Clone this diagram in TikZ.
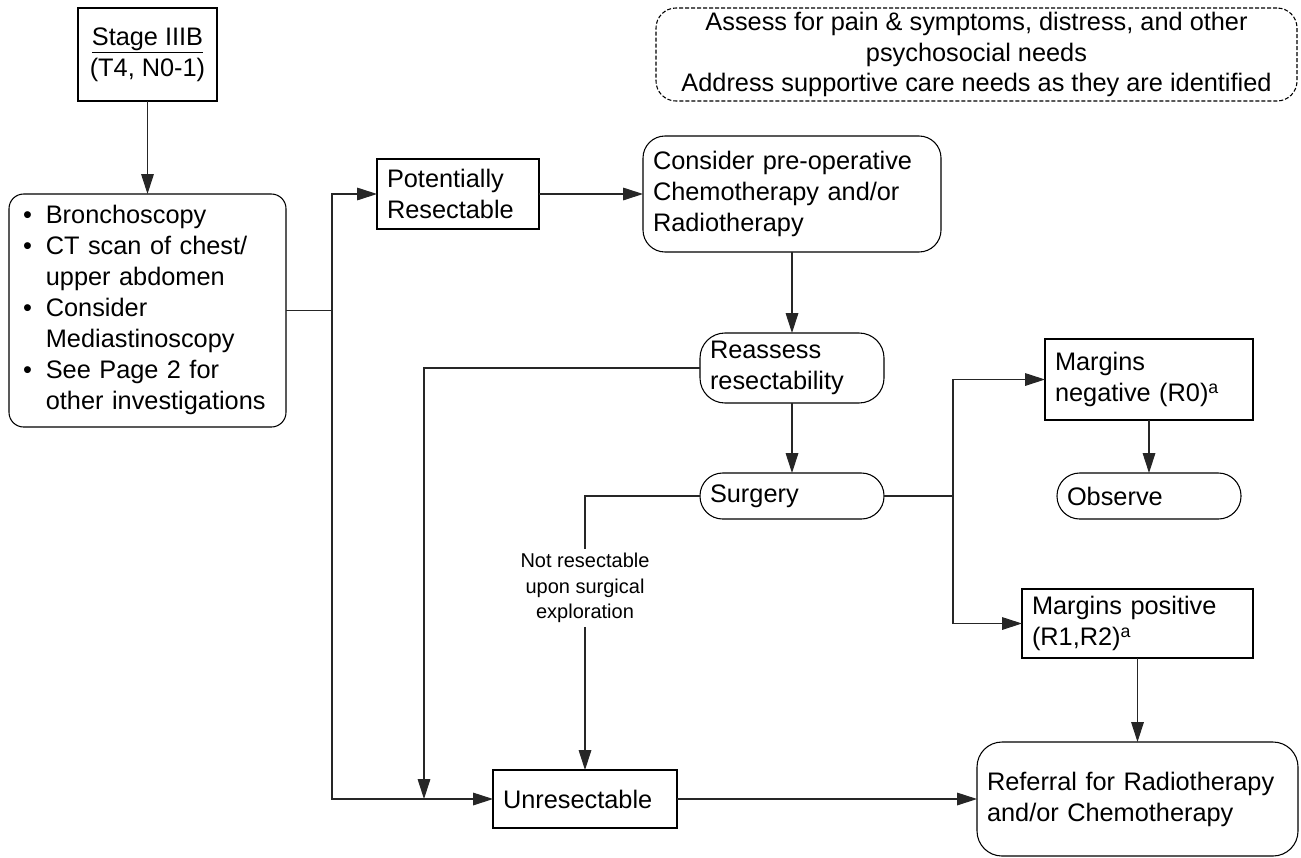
\documentclass[tikz,border=0pt]{standalone}
\usepackage{fontspec}
\setmainfont{Liberation Sans}
\usetikzlibrary{arrows.meta}
\newcommand{\mainsize}{\fontsize{19}{23.2}\selectfont}
\newcommand{\labsize}{\fontsize{15}{19}\selectfont}
\begin{document}
\begin{tikzpicture}[x=0.75pt,y=-0.75pt,
  base/.style={draw=black,line width=0.8pt,font=\mainsize,inner sep=0pt,outer sep=0pt},
  sqbox/.style={base},
  rbox/.style={base,rounded corners=#1},
  lefttext/.style={align=left,text width=#1},
  conn/.style={line width=0.8pt,draw=black!85},
  arr/.style={conn,-{Triangle[length=15pt,width=9.5pt]}},
  edgelab/.style={font=\labsize,align=center,inner sep=3pt}]
\useasboundingbox (0,0) rectangle (1301,857);

% staging box
\node[sqbox,minimum width=104.25pt,minimum height=69.75pt,align=center]
  (stage) at (147.5,54.5) {\underline{Stage IIIB}\\(T4, N0-1)};

% initial work-up
\node[rbox=11pt,minimum width=207.75pt,minimum height=174.75pt,lefttext=192.75pt]
  (inv) at (147.5,310.5) {\hspace*{3pt}\begin{tabular}{@{}l@{\hspace{10.5pt}}l@{}}
  \textbullet & Bronchoscopy\\
  \textbullet & CT scan of chest/\\
              & upper abdomen\\
  \textbullet & Consider\\
              & Mediastinoscopy\\
  \textbullet & See Page 2 for\\
              & other investigations
  \end{tabular}};

% supportive care note
\node[base,dash pattern=on 3pt off 1.5pt,rounded corners=15pt,minimum width=480.75pt,minimum height=69.75pt,align=center]
  (note) at (976.5,54.5) {Assess for pain \& symptoms, distress, and other\\psychosocial needs\\Address supportive care needs as they are identified};

% main pathway
\node[sqbox,minimum width=121.5pt,minimum height=52.5pt,lefttext=106.5pt]
  (pot) at (458,194) {Potentially\\Resectable};
\node[rbox=16.5pt,minimum width=223.5pt,minimum height=87pt,lefttext=208.5pt]
  (cons) at (792,194) {Consider pre-operative\\Chemotherapy and/or\\Radiotherapy};
\node[rbox=18.75pt,minimum width=138pt,minimum height=52.5pt,lefttext=123pt]
  (reas) at (792,368) {Reassess\\resectability};
\node[rbox=17pt,minimum width=138pt,minimum height=34.5pt,lefttext=123pt]
  (surg) at (792,496) {Surgery};
\node[sqbox,minimum width=156pt,minimum height=60.75pt,lefttext=141pt]
  (mneg) at (1149,379.5) {Margins\\negative (R0)\textsuperscript{a}};
\node[rbox=17pt,minimum width=138pt,minimum height=34.5pt,lefttext=123pt]
  (obs) at (1149,496) {Observe};
\node[sqbox,minimum width=173.25pt,minimum height=51.75pt,lefttext=158.25pt]
  (mpos) at (1137.5,623.5) {Margins positive\\(R1,R2)\textsuperscript{a}};
\node[sqbox,minimum width=138pt,minimum height=43.5pt,lefttext=123pt]
  (unres) at (585,799) {Unresectable};
\node[rbox=18.75pt,minimum width=240.75pt,minimum height=85.5pt,lefttext=225.75pt]
  (ref) at (1137.5,799) {Referral for Radiotherapy\\and/or Chemotherapy};

% edge label on the surgical-exploration branch
\node[edgelab] (lab) at (585,588) {Not resectable\\upon surgical\\exploration};

% junction points
\coordinate (jl) at (332,310.5);
\coordinate (ju) at (424,799);
\coordinate (jr) at (953,496);

% connectors
\draw[arr] (stage) -- (inv);
\draw[conn] (inv.east) -- (jl);
\draw[arr] (jl) |- (pot.west);
\draw[arr] (jl) |- (unres.west);
\draw[arr] (pot) -- (cons);
\draw[arr] (cons) -- (reas);
\draw[arr] (reas.west) -| (ju);
\draw[arr] (reas) -- (surg);
\draw[conn] (surg.west) -| (lab.north);
\draw[arr] (lab.south) -- (unres.north);
\draw[conn] (surg.east) -- (jr);
\draw[arr] (jr) |- (mneg.west);
\draw[arr] (jr) |- (mpos.west);
\draw[arr] (mneg) -- (obs);
\draw[arr] (mpos) -- (ref);
\draw[arr] (unres) -- (ref);
\end{tikzpicture}
\end{document}
